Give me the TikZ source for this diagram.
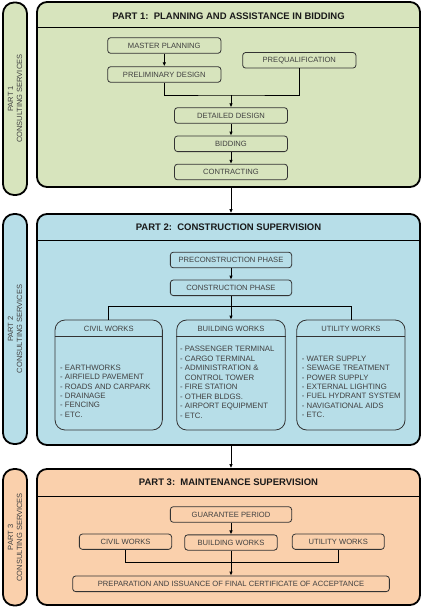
\documentclass[tikz,border=0pt]{standalone}
\usepackage{fontspec}
\setmainfont{Liberation Sans}
\usetikzlibrary{positioning,arrows.meta}
\definecolor{planfill}{HTML}{D7E4BD}
\definecolor{supfill}{HTML}{B7DEE8}
\definecolor{maintfill}{HTML}{FAD0AC}
\begin{document}
\begin{tikzpicture}[x=1pt,y=-1pt,>={Latex[length=4pt,width=3.6pt]}]
        % Styles
        \tikzstyle{part box}=[draw,line width=1.8pt,rounded corners=10pt,inner sep=0pt,minimum width=383pt]
        \tikzstyle{side box}=[draw,line width=1.8pt,rounded corners=11pt,inner sep=0pt,minimum width=24pt]
        \tikzstyle{side text}=[rotate=90,align=center,inner sep=0pt,font=\fontsize{7.5}{9}\selectfont,text=black!75]
        \tikzstyle{title text}=[inner sep=0pt,font=\fontsize{9.5}{11}\selectfont\bfseries,text=black!90]
        \tikzstyle{stage}=[draw=black!80,line width=0.8pt,rounded corners=3pt,minimum height=15.6pt,inner sep=0pt,font=\fontsize{7.6}{9}\selectfont,text=black!75]
        \tikzstyle{works}=[draw=black!80,line width=0.8pt,rounded corners=10pt,minimum height=110pt,inner sep=0pt]
        \tikzstyle{works text}=[inner sep=0pt,font=\fontsize{7.6}{9}\selectfont,text=black!75]
        \tikzstyle{list text}=[anchor=north west,align=left,inner sep=0pt,font=\fontsize{7.8}{9.45}\selectfont,text=black!75]
        \tikzstyle{link}=[line width=0.8pt]
        \useasboundingbox (0,0) rectangle (422,607);
        %part 1
        \node[side box,minimum height=192.5pt,fill=planfill] (side1) at (15,98.75) {};
        \node[side text] at (side1) {PART 1\\CONSULTING SERVICES};
        \node[part box,minimum height=185pt,fill=planfill] (part1) at (228.5,94.5) {};
        \draw[link] (part1.west |- 0,27.3) -- (part1.east |- 0,27.3);
        \node[title text] (title1) at (228.5,16) {PART 1:\ \ PLANNING AND ASSISTANCE IN BIDDING};
        \node[stage,minimum width=113.3pt] (master) at (164.3,45.5) {MASTER PLANNING};
        \node[stage,minimum width=113.3pt] (prelim) at (164.3,74.5) {PRELIMINARY DESIGN};
        \node[stage,minimum width=113.3pt] (prequal) at (299.3,60.3) {PREQUALIFICATION};
        \node[stage,minimum width=113pt] (detailed) at (231,115.5) {DETAILED DESIGN};
        \node[stage,minimum width=113pt] (bidding) at (231,143.8) {BIDDING};
        \node[stage,minimum width=113pt] (contracting) at (231,172) {CONTRACTING};
        \coordinate (join1) at (231,95);
        \draw[link,->] (master) -- (prelim);
        \draw[link] (prelim.south) |- (join1) -| (prequal.south);
        \draw[link,->] (join1) -- (detailed);
        \draw[link,->] (detailed) -- (bidding);
        \draw[link,->] (bidding) -- (contracting);
        %part 2
        \node[side box,minimum height=230pt,fill=supfill] (side2) at (15,329) {};
        \node[side text] at (side2) {PART 2\\CONSULTING SERVICES};
        \node[part box,minimum height=231pt,fill=supfill] (part2) at (228.5,329.5) {};
        \draw[link] (part2.west |- 0,240.7) -- (part2.east |- 0,240.7);
        \node[title text] (title2) at (228.5,227.3) {PART 2:\ \ CONSTRUCTION SUPERVISION};
        \node[stage,minimum width=121.3pt] (precon) at (231,260) {PRECONSTRUCTION PHASE};
        \node[stage,minimum width=121.3pt] (construct) at (231,287.8) {CONSTRUCTION PHASE};
        \node[works,minimum width=107.3pt] (civil) at (108.7,375) {};
        \node[works,minimum width=108.6pt] (building) at (231,375) {};
        \node[works,minimum width=108.3pt] (utility) at (350.9,375) {};
        \foreach \w/\wtext in {civil/CIVIL WORKS,building/BUILDING WORKS,utility/UTILITY WORKS}
        {
            \draw[link,draw=black!80] (\w.west |- 0,336.7) -- (\w.east |- 0,336.7);
            \node[works text] at (\w.north |- 0,328.5) {\wtext};
        }
        \node[list text] (civil list) at (60,364.5) {- EARTHWORKS\\- AIRFIELD PAVEMENT\\- ROADS AND CARPARK\\- DRAINAGE\\- FENCING\\- ETC.};
        \node[list text] (building list) at (180,346.2) {- PASSENGER TERMINAL\\- CARGO TERMINAL\\- ADMINISTRATION \&\\\hphantom{- }CONTROL TOWER\\- FIRE STATION\\- OTHER BLDGS.\\- AIRPORT EQUIPMENT\\- ETC.};
        \node[list text] (utility list) at (301.7,355.5) {- WATER SUPPLY\\- SEWAGE TREATMENT\\- POWER SUPPLY\\- EXTERNAL LIGHTING\\- FUEL HYDRANT SYSTEM\\- NAVIGATIONAL AIDS\\- ETC.};
        \draw[link,->] (precon) -- (construct);
        \draw[link] (civil.north) -- ++(0,-13.3) -| (utility.north);
        \draw[link,->] (construct) -- (building);
        %part 3
        \node[side box,minimum height=136.5pt,fill=maintfill] (side3) at (15,537.25) {};
        \node[side text] at (side3) {PART 3\\CONSULTING SERVICES};
        \node[part box,minimum height=136pt,fill=maintfill] (part3) at (228.5,537) {};
        \draw[link] (part3.west |- 0,496) -- (part3.east |- 0,496);
        \node[title text] (title3) at (228.5,482.7) {PART 3:\ \ MAINTENANCE SUPERVISION};
        \node[stage,minimum width=121.3pt] (guarantee) at (231,514.5) {GUARANTEE PERIOD};
        \node[stage,minimum width=92.3pt,minimum height=15.3pt] (civil3) at (125.5,541.7) {CIVIL WORKS};
        \node[stage,minimum width=92.6pt,minimum height=15.3pt] (building3) at (231,542.5) {BUILDING WORKS};
        \node[stage,minimum width=92pt,minimum height=15.3pt] (utility3) at (338.3,541.7) {UTILITY WORKS};
        \node[stage,minimum width=316.7pt] (final) at (231,583.8) {PREPARATION AND ISSUANCE OF FINAL CERTIFICATE OF ACCEPTANCE};
        \draw[link,->] (guarantee) -- (building3);
        \draw[link] (civil3.south) -- ++(0,13) -| (utility3.south);
        \draw[link,->] (building3) -- (final);
        %between parts
        \draw[link,->] (part1.south -| contracting) -- (part2.north -| contracting);
        \draw[link,->] (part2.south -| construct) -- (part3.north -| construct);
\end{tikzpicture}
\end{document}
